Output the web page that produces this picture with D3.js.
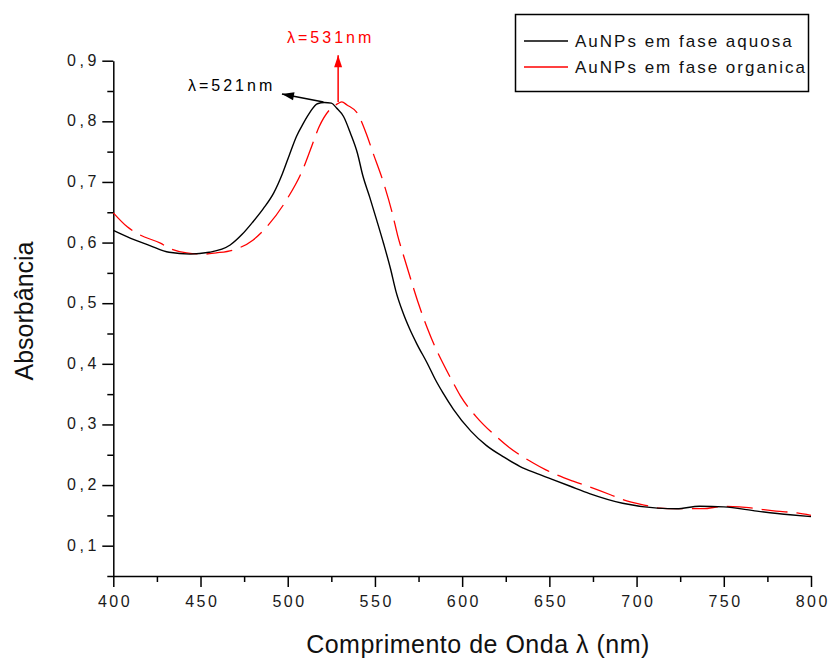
<!DOCTYPE html>
<html>
<head>
<meta charset="utf-8">
<script src="https://cdn.jsdelivr.net/npm/d3@7"></script>
<style>
  html, body { margin: 0; padding: 0; background: #fff; }
  svg { display: block; font-family: "Liberation Sans", Arial, sans-serif; }
</style>
</head>
<body>
<svg id="chart" width="829" height="659"></svg>
<script>
// ---- data ----
const seriesNames = ["AuNPs em fase aquosa", "AuNPs em fase organica"];

const wavelengthAquosa = [400, 410, 421, 432, 444, 455, 467, 474, 480, 486, 492, 497, 501, 505, 509, 513, 517, 521, 525, 528, 532, 536, 540, 543, 547, 551, 555, 559, 562, 566, 570, 574, 580, 585, 589, 595, 605, 614, 624, 633, 643, 652, 662, 673, 692, 712, 723, 736, 750, 769, 788, 800];
const absorbAquosa = [0.620, 0.607, 0.595, 0.584, 0.581, 0.584, 0.596, 0.614, 0.634, 0.656, 0.682, 0.714, 0.745, 0.775, 0.797, 0.816, 0.829, 0.831, 0.830, 0.822, 0.808, 0.780, 0.747, 0.711, 0.675, 0.637, 0.598, 0.556, 0.520, 0.485, 0.457, 0.433, 0.401, 0.372, 0.352, 0.325, 0.289, 0.265, 0.246, 0.231, 0.219, 0.209, 0.198, 0.186, 0.170, 0.162, 0.161, 0.165, 0.164, 0.157, 0.151, 0.148];

const wavelengthOrganica = [400, 408, 415, 427, 432, 442, 452, 459, 469, 480, 488, 499, 509, 513, 518, 524, 528, 531, 534, 540, 545, 549, 555, 560, 563, 567, 572, 575, 580, 584, 589, 595, 599, 608, 620, 627, 641, 648, 664, 673, 685, 692, 706, 713, 723, 738, 750, 759, 769, 780, 792, 800];
const absorbOrganica = [0.649, 0.626, 0.613, 0.599, 0.591, 0.583, 0.581, 0.583, 0.588, 0.604, 0.626, 0.669, 0.723, 0.753, 0.791, 0.819, 0.828, 0.832, 0.827, 0.813, 0.780, 0.747, 0.698, 0.648, 0.612, 0.573, 0.526, 0.499, 0.459, 0.431, 0.401, 0.368, 0.347, 0.313, 0.279, 0.262, 0.236, 0.225, 0.206, 0.197, 0.184, 0.176, 0.166, 0.162, 0.161, 0.161, 0.165, 0.164, 0.161, 0.157, 0.154, 0.150];

const xTickValues = [400, 450, 500, 550, 600, 650, 700, 750, 800];
const xMinorTickValues = [425, 475, 525, 575, 625, 675, 725, 775];
const yTickValues = [0.1, 0.2, 0.3, 0.4, 0.5, 0.6, 0.7, 0.8, 0.9];
const yMinorTickValues = [0.05, 0.15, 0.25, 0.35, 0.45, 0.55, 0.65, 0.75, 0.85];

const xTitle = "Comprimento de Onda λ (nm)";
const yTitle = "Absorbância";
const peakLabelAquosa = "λ=521nm";
const peakLabelOrganica = "λ=531nm";

// ---- layout ----
const svg = d3.select("#chart");
const x = d3.scaleLinear().domain([400, 800]).range([113.3, 811]);
const y = d3.scaleLinear().domain([0.05, 0.9]).range([576, 60.7]);
const fmtY = v => d3.format(".1f")(v).replace(".", ",");

// axes
const gx = svg.append("g").attr("transform", `translate(0,${y(0.05)})`);
gx.call(d3.axisBottom(x).tickValues(xTickValues).tickSize(11).tickSizeOuter(0).tickPadding(9).tickFormat(d3.format("d")));
const gxm = svg.append("g").attr("transform", `translate(0,${y(0.05)})`);
gxm.call(d3.axisBottom(x).tickValues(xMinorTickValues).tickSize(6).tickSizeOuter(0).tickFormat(""));
gxm.select(".domain").remove();

const gy = svg.append("g").attr("transform", `translate(${x(400)},0)`);
gy.call(d3.axisLeft(y).tickValues(yTickValues).tickSize(11).tickSizeOuter(0).tickPadding(6).tickFormat(fmtY));
const gym = svg.append("g").attr("transform", `translate(${x(400)},0)`);
gym.call(d3.axisLeft(y).tickValues(yMinorTickValues).tickSize(6).tickSizeOuter(0).tickFormat(""));
gym.select(".domain").remove();

svg.selectAll(".domain, .tick line").attr("stroke", "#000").attr("stroke-width", 1.5);
gx.selectAll(".tick text").attr("font-size", 16).attr("fill", "#1a1a1a")
  .attr("font-family", "Liberation Sans, Arial, sans-serif")
  .style("letter-spacing", "2.5px").attr("dx", 1.25);
gy.selectAll(".tick text").attr("font-size", 16).attr("fill", "#1a1a1a")
  .attr("font-family", "Liberation Sans, Arial, sans-serif")
  .style("letter-spacing", "3.5px").attr("dx", 3.5).attr("dy", "0.28em");

// titles
svg.append("text").attr("x", 478).attr("y", 653).attr("text-anchor", "middle")
  .attr("font-size", 25).style("letter-spacing", "0.5px").attr("fill", "#111").text(xTitle);
svg.append("text").attr("transform", `translate(33,311) rotate(-90)`).attr("text-anchor", "middle")
  .attr("font-size", 25).attr("fill", "#111").text(yTitle);

// lines
const line = (xs, ys) => d3.line().x((d, i) => x(xs[i])).y((d, i) => y(ys[i])).curve(d3.curveMonotoneX)(xs);
svg.append("path").attr("d", line(wavelengthOrganica, absorbOrganica))
  .attr("fill", "none").attr("stroke", "#ff0000").attr("stroke-width", 1.3).attr("stroke-dasharray", "26,9");
svg.append("path").attr("d", line(wavelengthAquosa, absorbAquosa))
  .attr("fill", "none").attr("stroke", "#000").attr("stroke-width", 1.4);

// annotations
function arrow(x1, y1, x2, y2, color) {
  svg.append("line").attr("x1", x1).attr("y1", y1).attr("x2", x2).attr("y2", y2)
    .attr("stroke", color).attr("stroke-width", 1.5);
  const ang = Math.atan2(y2 - y1, x2 - x1), L = 12, W = 4;
  const bx = x2 - L * Math.cos(ang), by = y2 - L * Math.sin(ang);
  const px = -Math.sin(ang) * W, py = Math.cos(ang) * W;
  svg.append("path").attr("d", `M${x2},${y2}L${bx + px},${by + py}L${bx - px},${by - py}Z`).attr("fill", color);
}
arrow(x(528.9), y(0.832), x(528.9), y(0.909), "#ff0000");
arrow(x(520.5), y(0.832), x(496.7), y(0.845), "#000");

svg.append("text").attr("x", x(499.6)).attr("y", y(0.929)).attr("font-size", 16)
  .style("letter-spacing", "3px").attr("fill", "#ff0000").text(peakLabelOrganica);
svg.append("text").attr("x", x(442.8)).attr("y", y(0.85)).attr("font-size", 16)
  .style("letter-spacing", "3px").attr("fill", "#000").text(peakLabelAquosa);

// legend
const lg = svg.append("g");
lg.append("rect").attr("x", 515.5).attr("y", 14.5).attr("width", 293).attr("height", 77)
  .attr("fill", "#fff").attr("stroke", "#000").attr("stroke-width", 1.5);
const legendColors = ["#000", "#ff0000"];
seriesNames.forEach((name, i) => {
  const yy = 41 + i * 26;
  lg.append("line").attr("x1", 524).attr("x2", 568).attr("y1", yy).attr("y2", yy)
    .attr("stroke", legendColors[i]).attr("stroke-width", 1.5);
  lg.append("text").attr("x", 575).attr("y", yy + 6).attr("font-size", 17)
    .style("letter-spacing", "2px").attr("fill", "#111").text(name);
});
</script>
</body>
</html>
